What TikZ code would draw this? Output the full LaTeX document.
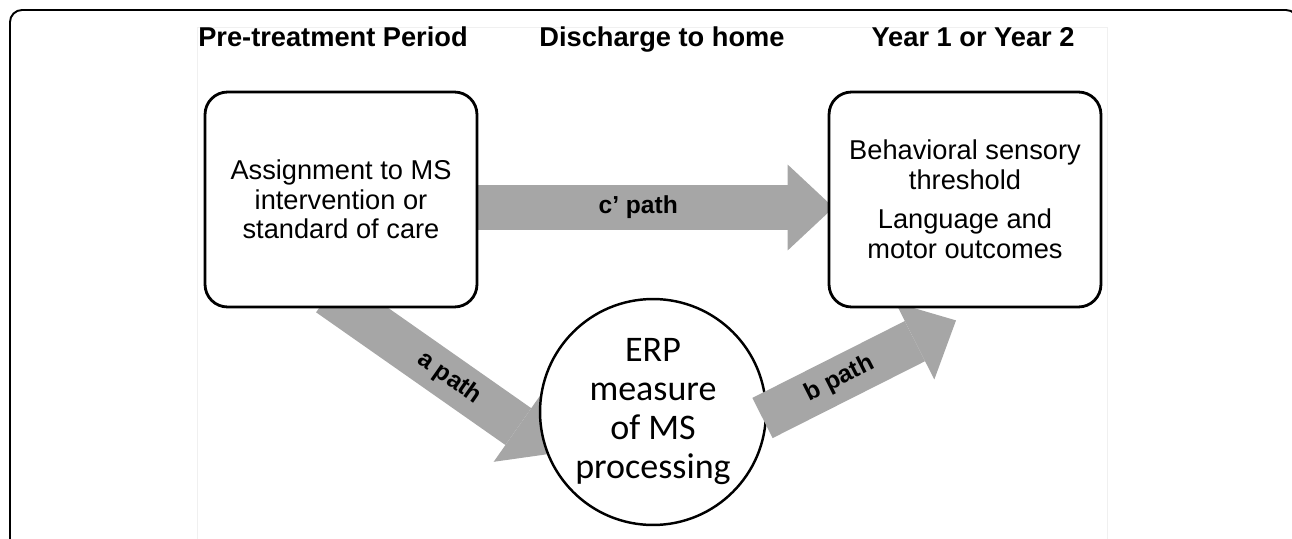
\documentclass[tikz,border=0pt]{standalone}
\usepackage{fontspec}
\setmainfont{Liberation Sans}
\newfontfamily\erpfont{Carlito}
\usetikzlibrary{positioning, arrows.meta, calc}
\definecolor{pathgrey}{RGB}{166,166,166}
\pgfdeclarelayer{back}
\pgfdeclarelayer{front}
\pgfsetlayers{back,main,front}

\begin{document}
\begin{tikzpicture}[x=0.02cm, y=-0.02cm,
            block/.style={rectangle, draw, line width=1.6pt, rounded corners=0.45cm, fill=white, minimum width=5.44cm, minimum height=4.3cm, align=center, font=\fontsize{15.5}{16.8}\selectfont},
            circleblock/.style={circle, draw, line width=1.4pt, fill=white, minimum size=4.52cm, inner sep=0pt, align=center, font=\erpfont\fontsize{20.5}{22.2}\selectfont},
            header/.style={anchor=base, font=\fontsize{15.5}{18}\bfseries\selectfont},
            fatarrow/.style={pathgrey, line width=0.9cm, -{Triangle[width=1.72cm, length=0.92cm, line width=0pt]}},
            pathlabel/.style={black, sloped, font=\fontsize{14}{16}\bfseries\selectfont}
        ]
            \useasboundingbox (0,0) rectangle (1292,538);

            % Frame and panel
            \draw[line width=1.1pt, rounded corners=0.24cm] (10,560) -- (10,10) -- (1298,10) -- (1298,560);
            \draw[black!6, line width=0.5pt] (197,560) -- (197,27) -- (1107,27) -- (1107,560);

            % Column headers
            \node[header] (pre) at (333,46) {Pre-treatment Period};
            \node[header] (discharge) at (662,46) {Discharge to home};
            \node[header] (year) at (973,46) {Year 1 or Year 2};

            % Boxes and circle
            \node[block] (assign) at (341,199.5) {Assignment to MS\\intervention or\\standard of care};
            \node[circleblock] (erp) at (653,412) {ERP\\measure\\of MS\\processing};
            \begin{pgfonlayer}{front}
                \node[block] (outcome) at (965,199.5) {Behavioral sensory\\threshold\\[0.2cm]Language and\\motor outcomes};
            \end{pgfonlayer}

            % Paths
            \begin{pgfonlayer}{back}
                \draw[fatarrow] ([yshift=-0.16cm]assign.east) -- ([xshift=0.12cm, yshift=-0.16cm]outcome.west) node[pathlabel, pos=0.45] {c’ path};
                \draw[fatarrow] ($(assign.south)+(-12,-14.5)$) -- ($(erp.center)+(-97,41)$) node[pathlabel, pos=0.53] {a path};
            \end{pgfonlayer}
            \draw[fatarrow] ($(erp.center)+(109.5,6)$) -- ($(outcome.south)+(-9,12)$) node[pathlabel, pos=0.4] {b path};
        \end{tikzpicture}
\end{document}
